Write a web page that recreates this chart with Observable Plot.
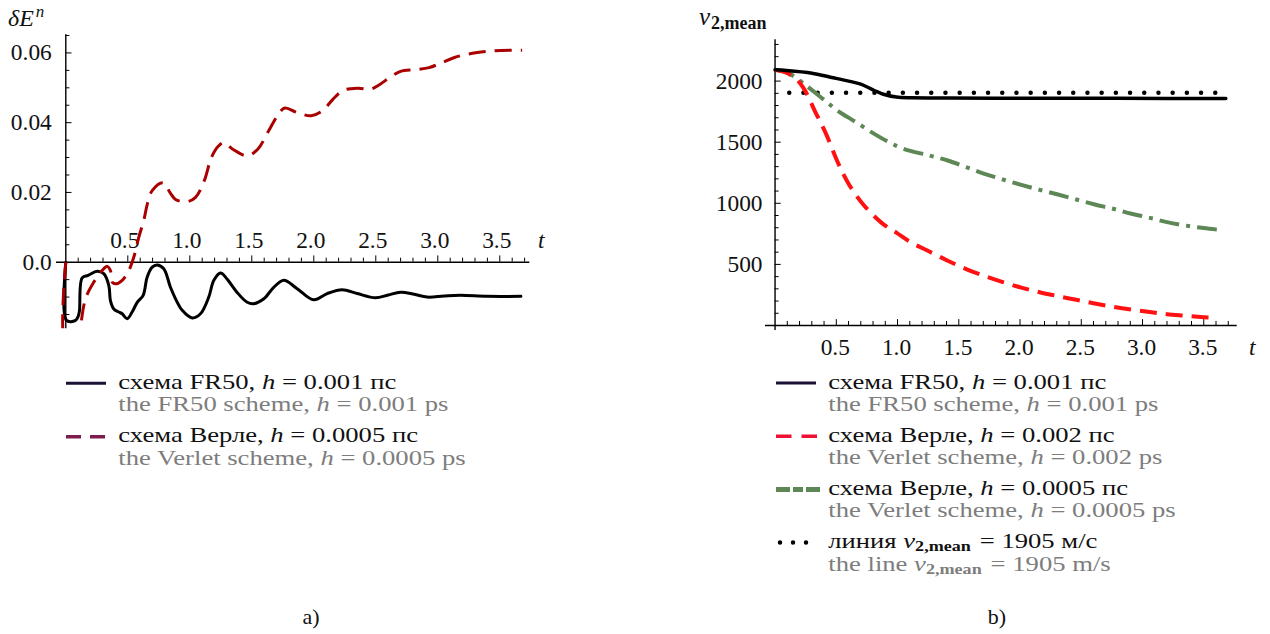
<!DOCTYPE html>
<html><head><meta charset="utf-8">
<script src="https://cdn.jsdelivr.net/npm/d3@7"></script>
<script src="https://cdn.jsdelivr.net/npm/@observablehq/plot@0.6"></script>
<style>
html,body{margin:0;padding:0;background:#fff;}
#wrap{position:relative;width:1270px;height:634px;overflow:hidden;}
#left,#right{position:absolute;top:0;}
#left{left:0;} #right{left:680px;}
#overlay{position:absolute;left:0;top:0;}
</style></head><body>
<div id="wrap"><div id="left"></div><div id="right"></div><svg id="overlay" width="1270" height="634" xmlns="http://www.w3.org/2000/svg"></svg></div>
<script>
// ---------- data: panel a) energy error ----------
const aT_fr50 = [0, 0.005, 0.078, 0.10, 0.11, 0.132, 0.18, 0.253, 0.306, 0.347, 0.36, 0.387, 0.427, 0.455, 0.495, 0.535, 0.576, 0.624, 0.656, 0.697, 0.737, 0.79, 0.844, 0.885, 0.939, 1.02, 1.086, 1.153, 1.194, 1.248, 1.30, 1.38, 1.463, 1.516, 1.597, 1.677, 1.758, 1.866, 2.0, 2.108, 2.229, 2.35, 2.497, 2.60, 2.70, 2.81, 2.914, 3.05, 3.183, 3.398, 3.67];
const aE_fr50 = [0, -0.0167, -0.0167, -0.0155, -0.014, -0.0045, -0.0038, -0.0026, -0.0033, -0.0067, -0.011, -0.0134, -0.0143, -0.0148, -0.0162, -0.0143, -0.0115, -0.0095, -0.0043, -0.0014, -0.0008, -0.0019, -0.0072, -0.0105, -0.0138, -0.016, -0.0148, -0.010, -0.0052, -0.0031, -0.0048, -0.0086, -0.0115, -0.0119, -0.0105, -0.0072, -0.0052, -0.0076, -0.0108, -0.009, -0.0079, -0.009, -0.0102, -0.0094, -0.0086, -0.0092, -0.01, -0.0097, -0.0095, -0.0098, -0.0098];
const aT_verlet = [0, 0.004, 0.10, 0.118, 0.159, 0.226, 0.293, 0.334, 0.36, 0.374, 0.40, 0.455, 0.508, 0.548, 0.589, 0.629, 0.66, 0.698, 0.784, 0.842, 0.885, 0.972, 1.044, 1.116, 1.174, 1.231, 1.275, 1.347, 1.462, 1.548, 1.635, 1.707, 1.765, 1.866, 1.98, 2.07, 2.154, 2.24, 2.356, 2.457, 2.529, 2.615, 2.70, 2.817, 2.93, 3.02, 3.134, 3.28, 3.45, 3.68];
const aE_verlet = [0, -0.025, -0.025, -0.019, -0.0105, -0.0057, -0.0024, -0.0012, -0.0024, -0.0057, -0.0062, -0.0052, -0.0024, 0.0014, 0.0072, 0.012, 0.017, 0.0206, 0.0228, 0.0199, 0.018, 0.0173, 0.0185, 0.0233, 0.030, 0.0333, 0.0343, 0.0324, 0.0305, 0.0324, 0.0376, 0.042, 0.0442, 0.0429, 0.042, 0.0434, 0.0467, 0.0493, 0.0499, 0.0496, 0.0509, 0.053, 0.0547, 0.0552, 0.0558, 0.057, 0.0587, 0.0599, 0.0606, 0.0608];

// ---------- data: panel b) mean velocity ----------
const bT_fr50 = [0, 0.093, 0.302, 0.452, 0.60, 0.70, 0.81, 0.90, 0.99, 1.11, 1.41, 2.01, 2.61, 3.2, 3.68];
const bV_fr50 = [2092, 2087, 2065, 2032, 2000, 1975, 1923, 1888, 1869, 1863, 1862, 1860, 1859, 1858, 1858];
const bT_verlet002 = [0, 0.093, 0.18, 0.24, 0.33, 0.42, 0.51, 0.60, 0.72, 0.87, 0.99, 1.11, 1.26, 1.41, 1.56, 1.71, 1.86, 2.01, 2.16, 2.31, 2.46, 2.61, 2.76, 2.91, 3.06, 3.20, 3.35, 3.50, 3.60];
const bV_verlet002 = [2092, 2068, 2010, 1930, 1745, 1560, 1340, 1160, 990, 840, 760, 680, 605, 530, 462, 405, 355, 310, 272, 240, 210, 180, 153, 130, 110, 92, 80, 68, 62];
const bT_verlet0005 = [0, 0.12, 0.27, 0.39, 0.51, 0.66, 0.81, 0.93, 1.05, 1.26, 1.41, 1.56, 1.71, 1.86, 2.01, 2.16, 2.31, 2.46, 2.61, 2.76, 2.91, 3.06, 3.20, 3.35, 3.50, 3.62];
const bV_verlet0005 = [2092, 2059, 1950, 1855, 1759, 1664, 1568, 1500, 1446, 1391, 1350, 1296, 1241, 1195, 1151, 1110, 1072, 1031, 990, 955, 914, 881, 846, 818, 797, 783];
const bRefLine = [1905];
const bRefT = [0.12, 3.68];

// ---------- tick labels ----------
const tTickValues = [0.5, 1.0, 1.5, 2.0, 2.5, 3.0, 3.5];
const tTickLabels = ["0.5", "1.0", "1.5", "2.0", "2.5", "3.0", "3.5"];
const aYTickValues = [0, 0.02, 0.04, 0.06];
const aYTickLabels = ["0.0", "0.02", "0.04", "0.06"];
const bYTickValues = [500, 1000, 1500, 2000];
const bYTickLabels = ["500", "1000", "1500", "2000"];

// ---------- legend texts ----------
const aLegendRu = ["схема FR50, <i>h</i> = 0.001 пс", "схема Верле, <i>h</i> = 0.0005 пс"];
const aLegendEn = ["the FR50 scheme, <i>h</i> = 0.001 ps", "the Verlet scheme, <i>h</i> = 0.0005 ps"];
const bLegendRu = ["схема FR50, <i>h</i> = 0.001 пс", "схема Верле, <i>h</i> = 0.002 пс", "схема Верле, <i>h</i> = 0.0005 пс", "линия <i>v</i><sub>2,mean</sub> = 1905 м/с"];
const bLegendEn = ["the FR50 scheme, <i>h</i> = 0.001 ps", "the Verlet scheme, <i>h</i> = 0.002 ps", "the Verlet scheme, <i>h</i> = 0.0005 ps", "the line <i>v</i><sub>2,mean</sub> = 1905 m/s"];
const panelLabels = ["a)", "b)"];

// ---------- fonts ----------
const serif = '"Liberation Serif", "Times New Roman", serif';
const tickSize = 23.4;

// ---------- helpers ----------
const zip = (xs, ys) => xs.map((x, i) => ({t: x, v: ys[i]}));
const tMinor = d3.range(1, 38).map(i => i / 10);
const isHalf = t => Math.abs(t * 2 - Math.round(t * 2)) < 1e-6;

// ---------- panel a ----------
const aYMinor = d3.range(-3, 14).filter(i => i !== 0).map(i => i * 0.005);
const plotA = Plot.plot({
  width: 560, height: 345,
  marginLeft: 56, marginRight: 30.7, marginTop: 34.3, marginBottom: 16.7,
  x: {domain: [-0.075, 3.742], axis: null},
  y: {domain: [-0.0191, 0.0652], axis: null},
  style: {fontFamily: serif, fontSize: tickSize + "px", background: "transparent", overflow: "visible"},
  marks: [
    Plot.ruleY([0], {x1: -0.075, x2: 3.742, stroke: "#000", strokeWidth: 1.4}),
    Plot.ruleX([0], {y1: -0.0191, y2: 0.0652, stroke: "#000", strokeWidth: 1.4}),
    Plot.ruleX(tMinor, {x: d => d, y1: 0, y2: d => isHalf(d) ? 0.0018 : 0.00115, stroke: "#000", strokeWidth: 1}),
    Plot.ruleY(aYMinor, {y: d => d, x1: 0, x2: d => Math.abs(d / 0.02 - Math.round(d / 0.02)) < 1e-6 ? 0.05 : 0.033, stroke: "#000", strokeWidth: 1}),
    Plot.text(tTickValues, {x: d => d, y: 0, dy: -21.7, dx: -3, text: (d, i) => tTickLabels[i], fontSize: tickSize, fill: "#111"}),
    Plot.text(aYTickValues, {x: 0, y: d => d, dx: -14, text: (d, i) => aYTickLabels[i], textAnchor: "end", fontSize: tickSize, fill: "#111"}),
    Plot.text(["t"], {x: 3.834, y: 0, dy: -21.7, text: d => d, fontStyle: "italic", fontSize: tickSize, fill: "#111"}),
    Plot.line(zip(aT_fr50, aE_fr50), {x: "t", y: "v", stroke: "#000", strokeWidth: 3, curve: "catmull-rom", clip: true}),
    Plot.line(zip(aT_verlet, aE_verlet), {x: "t", y: "v", stroke: "#aa0000", strokeWidth: 3, strokeDasharray: "17,9", strokeLinecap: "butt", curve: "catmull-rom", clip: true})
  ]
});
document.getElementById("left").appendChild(plotA);

// ---------- panel b ----------
const bYMinor = d3.range(1, 24).map(i => i * 100);
const plotB = Plot.plot({
  width: 590, height: 360,
  marginLeft: 85, marginRight: 33.3, marginTop: 39.3, marginBottom: 30,
  x: {domain: [-0.078, 3.773], axis: null},
  y: {domain: [-41, 2338], axis: null},
  style: {fontFamily: serif, fontSize: tickSize + "px", background: "transparent", overflow: "visible"},
  marks: [
    Plot.ruleY([0], {x1: -0.078, x2: 3.773, stroke: "#000", strokeWidth: 1.4}),
    Plot.ruleX([0], {y1: -41, y2: 2338, stroke: "#000", strokeWidth: 1.4}),
    Plot.ruleX(tMinor, {x: d => d, y1: 0, y2: d => isHalf(d) ? 48 : 33, stroke: "#000", strokeWidth: 1}),
    Plot.ruleY(bYMinor, {y: d => d, x1: 0, x2: d => d % 500 === 0 ? 0.05 : 0.033, stroke: "#000", strokeWidth: 1}),
    Plot.text(tTickValues, {x: d => d, y: 0, dy: 21.7, dx: -1, text: (d, i) => tTickLabels[i], fontSize: tickSize, fill: "#111"}),
    Plot.text(bYTickValues, {x: 0, y: d => d, dx: -12.5, text: (d, i) => bYTickLabels[i], textAnchor: "end", fontSize: tickSize, fill: "#111"}),
    Plot.text(["t"], {x: 3.896, y: 0, dy: 21.7, text: d => d, fontStyle: "italic", fontSize: tickSize, fill: "#111"}),
    Plot.ruleY(bRefLine, {y: d => d, x1: bRefT[0], x2: bRefT[1], stroke: "#000", strokeWidth: 4.5, strokeDasharray: "0,14.2", strokeLinecap: "round"}),
    Plot.line(zip(bT_verlet0005, bV_verlet0005), {x: "t", y: "v", stroke: "#5e8756", strokeWidth: 4, strokeDasharray: "20,7,4,7", strokeLinecap: "butt", curve: "catmull-rom"}),
    Plot.line(zip(bT_verlet002, bV_verlet002), {x: "t", y: "v", stroke: "#ff1111", strokeWidth: 4, strokeDasharray: "17,9", strokeLinecap: "butt", curve: "catmull-rom"}),
    Plot.line(zip(bT_fr50, bV_fr50), {x: "t", y: "v", stroke: "#000", strokeWidth: 3.5, curve: "catmull-rom"})
  ]
});
document.getElementById("right").appendChild(plotB);

// ---------- overlay: axis titles, legends, panel labels ----------
const NS = "http://www.w3.org/2000/svg";
const ov = document.getElementById("overlay");
function el(name, attrs, parent) {
  const e = document.createElementNS(NS, name);
  for (const k in attrs) e.setAttribute(k, attrs[k]);
  (parent || ov).appendChild(e);
  return e;
}
function richText(str, x, y, size, fill, sx) {
  const g = el("g", {transform: `translate(${x},${y}) scale(${sx},1)`});
  const t = el("text", {x: 0, y: 0, "font-family": serif, "font-size": size, fill: fill}, g);
  const parts = str.split(/(<i>.*?<\/i>|<sub>.*?<\/sub>)/).filter(s => s.length);
  for (const p of parts) {
    const ts = document.createElementNS(NS, "tspan");
    if (p.startsWith("<i>")) { ts.setAttribute("font-style", "italic"); ts.textContent = p.slice(3, -4); t.appendChild(ts); }
    else if (p.startsWith("<sub>")) {
      ts.setAttribute("font-size", size * 0.68); ts.setAttribute("dy", 3); ts.setAttribute("font-weight", "bold"); ts.textContent = p.slice(5, -6); t.appendChild(ts);
      const back = document.createElementNS(NS, "tspan"); back.setAttribute("dy", -3); back.textContent = "\u200A"; t.appendChild(back);
    } else { ts.textContent = p; t.appendChild(ts); }
  }
  return t;
}
// axis titles
{
  const t1 = el("text", {x: 8, y: 26, "font-family": serif, "font-size": 24, fill: "#111"});
  const a = document.createElementNS(NS, "tspan"); a.setAttribute("font-style", "italic"); a.textContent = "δE"; t1.appendChild(a);
  const b = document.createElementNS(NS, "tspan"); b.setAttribute("font-style", "italic"); b.setAttribute("font-size", 17); b.setAttribute("dy", -9); b.setAttribute("dx", 2); b.textContent = "n"; t1.appendChild(b);
  const t2 = el("text", {x: 699, y: 25, "font-family": serif, "font-size": 25, fill: "#111"});
  const c = document.createElementNS(NS, "tspan"); c.setAttribute("font-style", "italic"); c.textContent = "v"; t2.appendChild(c);
  const d = document.createElementNS(NS, "tspan"); d.setAttribute("font-size", 18); d.setAttribute("font-weight", "bold"); d.setAttribute("dy", 4); d.setAttribute("dx", 1); d.textContent = "2,mean"; t2.appendChild(d);
}
// legends
const gray = "#7d7d7d";
const LEG = 20;
// horizontal stretch so the first legend line spans like the reference (~278 px)
const probeText = richText(aLegendRu[0], -1000, -1000, LEG, "#000", 1);
const SX = 278 / probeText.getComputedTextLength();
probeText.parentNode.remove();
function swatch(kind, x, y) {
  if (kind === "solid") el("line", {x1: x, x2: x + 40, y1: y, y2: y, stroke: "#1b1135", "stroke-width": 3});
  if (kind === "darkdash") el("line", {x1: x, x2: x + 40, y1: y, y2: y, stroke: "#7d1d4d", "stroke-width": 3.5, "stroke-dasharray": "15,9"});
  if (kind === "reddash") el("line", {x1: x, x2: x + 41, y1: y, y2: y, stroke: "#ee1133", "stroke-width": 3.5, "stroke-dasharray": "15.5,10"});
  if (kind === "greendash") el("line", {x1: x, x2: x + 44, y1: y, y2: y, stroke: "#5e8756", "stroke-width": 5, "stroke-dasharray": "14,3,10,3,14"});
  if (kind === "dots") el("line", {x1: x + 4, x2: x + 43, y1: y, y2: y, stroke: "#000", "stroke-width": 4.5, "stroke-dasharray": "0,13", "stroke-linecap": "round"});
}
const aKinds = ["solid", "darkdash"];
const bKinds = ["solid", "reddash", "greendash", "dots"];
aLegendRu.forEach((s, i) => {
  const y0 = 383.3 + i * 53.4;
  swatch(aKinds[i], 66, y0);
  richText(s, 118.3, y0 + 5.5, LEG, "#111", SX);
  richText(aLegendEn[i], 118.3, y0 + 28, LEG, gray, SX);
});
bLegendRu.forEach((s, i) => {
  const y0 = 383 + i * 53.2;
  swatch(bKinds[i], 776, y0);
  richText(s, 828.3, y0 + 5.5, LEG, "#111", SX);
  richText(bLegendEn[i], 828.3, y0 + 28, LEG, gray, SX);
});
// panel labels
el("text", {x: 311, y: 624, "text-anchor": "middle", "font-family": serif, "font-size": 22, fill: "#111"}).textContent = panelLabels[0];
el("text", {x: 997, y: 624, "text-anchor": "middle", "font-family": serif, "font-size": 22, fill: "#111"}).textContent = panelLabels[1];
</script>
</body></html>
